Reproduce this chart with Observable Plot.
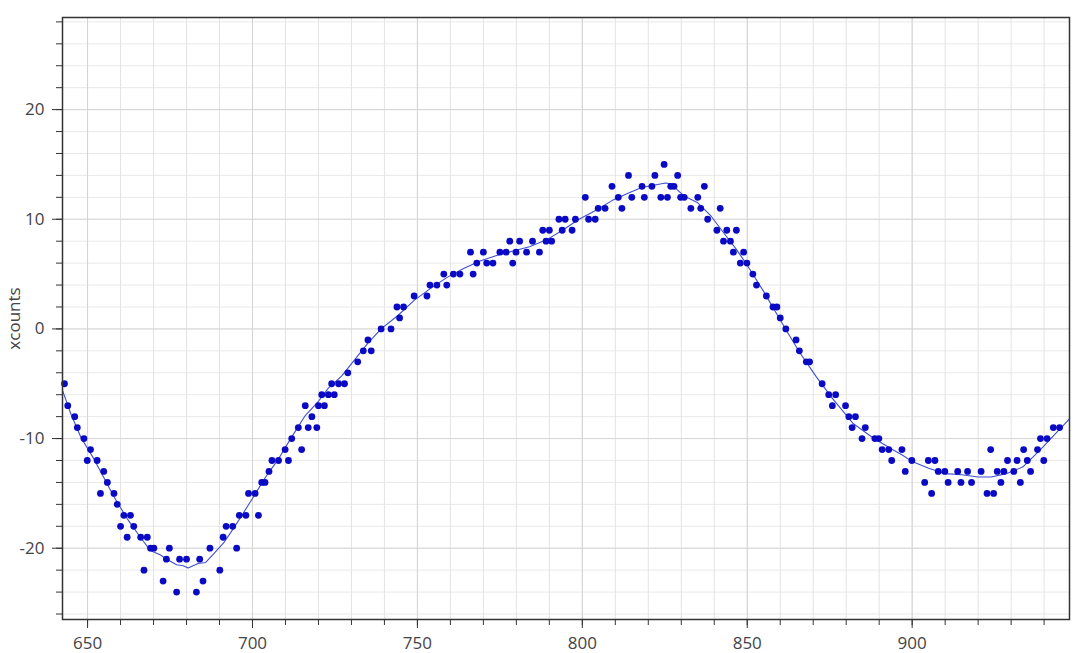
<!DOCTYPE html>
<html>
<head>
<meta charset="utf-8">
<script src="https://cdn.jsdelivr.net/npm/d3@7"></script>
<script src="https://cdn.jsdelivr.net/npm/@observablehq/plot@0.6"></script>
<style>
  html, body { margin: 0; padding: 0; background: #fff; }
  #chart svg { display: block; }
</style>
</head>
<body>
<div id="chart"></div>
<script>
// Measured samples (x, xcounts)
const sampleX = [643.0,644.0,646.1,646.9,648.9,649.9,650.9,652.9,653.9,654.9,656.0,658.0,659.0,660.0,661.0,662.0,663.0,664.0,666.1,667.1,668.1,669.1,670.1,672.9,673.9,674.8,677.0,677.9,680.0,683.0,684.0,685.0,687.1,690.1,691.1,692.0,694.0,695.2,696.0,698.0,698.8,700.8,701.8,702.8,703.8,705.0,705.9,707.9,709.9,710.9,711.9,713.9,714.9,716.0,716.9,718.0,719.5,720.0,721.0,721.8,723.0,724.0,724.8,726.1,727.9,728.9,731.9,733.6,735.0,736.0,739.0,742.0,743.8,744.6,745.8,749.0,752.9,753.8,755.9,758.0,758.9,760.9,762.9,766.1,766.9,768.0,770.0,771.0,772.9,775.0,776.9,778.0,778.9,779.9,781.0,783.1,784.9,787.0,788.0,789.0,790.0,790.7,792.9,793.9,794.8,796.9,797.9,800.9,801.9,803.9,804.8,806.9,809.0,810.9,812.0,814.0,815.0,818.1,818.8,821.1,822.0,823.8,824.8,825.8,826.8,827.8,828.9,829.8,830.9,832.9,835.0,835.9,837.0,838.0,840.8,841.8,842.8,843.8,844.9,845.8,846.7,847.9,848.9,849.9,851.7,852.8,855.8,857.8,859.0,860.0,861.7,864.8,865.8,867.9,868.9,872.7,874.7,875.8,876.8,879.8,880.8,881.8,882.8,884.8,885.8,888.7,889.9,890.9,892.9,893.8,896.9,897.9,899.9,903.8,904.9,905.9,906.9,907.9,909.9,910.9,913.8,914.8,916.8,918.0,920.9,922.7,923.8,924.7,925.8,926.9,927.8,928.9,930.8,931.8,932.8,933.8,934.9,935.9,938.0,938.9,939.9,940.9,942.8,944.7];
const sampleY = [-5,-7,-8,-9,-10,-12,-11,-12,-15,-13,-14,-15,-16,-18,-17,-19,-17,-18,-19,-22,-19,-20,-20,-23,-21,-20,-24,-21,-21,-24,-21,-23,-20,-22,-19,-18,-18,-20,-17,-17,-15,-15,-17,-14,-14,-13,-12,-12,-11,-12,-10,-9,-11,-7,-9,-8,-9,-7,-6,-7,-6,-5,-6,-5,-5,-4,-3,-2,-1,-2,0,0,2,1,2,3,3,4,4,5,4,5,5,7,5,6,7,6,6,7,7,8,6,7,8,7,8,7,9,8,9,8,10,9,10,9,10,12,10,10,11,11,13,12,11,14,12,13,12,13,14,12,15,12,13,13,14,12,12,11,12,11,13,10,9,11,8,9,8,7,9,6,7,6,5,4,3,2,2,1,0,-1,-2,-3,-3,-5,-6,-7,-6,-7,-8,-9,-8,-10,-9,-10,-10,-11,-11,-12,-11,-13,-12,-14,-12,-15,-12,-13,-13,-14,-13,-14,-13,-14,-13,-15,-11,-15,-13,-14,-13,-12,-13,-12,-14,-11,-12,-13,-11,-10,-12,-10,-9,-9];

// Smoothed curve
const fitX = [642.4,645,648,652,655,658,662,666,669,672,674,677,679,680.5,683.5,685.8,688.3,691.3,694,697,700.3,704,708,712,716,720,723,727,731,735,739,744,749,754,759,764,769,774,779,784,789,794,799,804,809,814,818,821.6,825.2,827.7,828.7,831,835,839,843,846.6,850,855,861.6,866,871,876,882,888,894,897,900,905,910,915,920,924,928.5,933.5,938.6,943.6,947.7];
const fitY = [-5.6,-7.8,-9.9,-11.9,-13.6,-15.3,-17.3,-19.0,-20.2,-20.6,-21.0,-21.5,-21.6,-21.8,-21.4,-21.3,-20.5,-19.5,-18.3,-16.9,-15.3,-13.5,-11.8,-9.8,-7.9,-6.6,-5.4,-4.3,-2.8,-1.3,0,1.2,2.6,3.7,4.7,5.5,6.2,6.7,7.1,7.5,8.1,9.0,10.0,10.8,11.7,12.4,12.9,13.1,13.3,13.2,12.7,12.1,11.5,10.3,8.7,7.3,5.8,3.4,0,-2.2,-4.4,-6.4,-8.6,-9.9,-11.0,-11.5,-12.1,-12.7,-13.2,-13.3,-13.5,-13.5,-13.2,-12.6,-11.1,-9.5,-8.2];

// Ticks
const xMajorTicks = [650, 700, 750, 800, 850, 900];
const xMinorTicks = [650, 660, 670, 680, 690, 700, 710, 720, 730, 740, 750, 760, 770, 780, 790, 800, 810, 820, 830, 840, 850, 860, 870, 880, 890, 900, 910, 920, 930, 940];
const yMajorTicks = [-20, -10, 0, 10, 20];
const yMinorTicks = [-26, -24, -22, -20, -18, -16, -14, -12, -10, -8, -6, -4, -2, 0, 2, 4, 6, 8, 10, 12, 14, 16, 18, 20, 22, 24, 26, 28];
const yLabel = "xcounts";

const points = sampleX.map((x, i) => ({x, y: sampleY[i]}));
const fit = fitX.map((x, i) => ({x, y: fitY[i]}));

const chart = Plot.plot({
  width: 1080,
  height: 653,
  marginLeft: 62,
  marginRight: 11,
  marginTop: 17,
  marginBottom: 34,
  style: {fontFamily: "'Open Sans', 'DejaVu Sans', sans-serif", fontSize: "17px", color: "#444", background: "#fff"},
  x: {domain: [642.4, 947.7], label: null},
  y: {domain: [-26.5, 28.4], label: null},
  marks: [
    Plot.gridY(yMinorTicks, {stroke: "#e9e9e9", strokeOpacity: 1}),
    Plot.gridX(xMinorTicks, {stroke: "#e3e3e3", strokeOpacity: 1}),
    Plot.gridY(yMajorTicks, {stroke: "#d6d6d6", strokeOpacity: 1}),
    Plot.gridX(xMajorTicks, {stroke: "#d3d3d3", strokeOpacity: 1}),
    Plot.line(fit, {x: "x", y: "y", stroke: "#3e4ed0", strokeWidth: 1.1}),
    Plot.dot(points, {x: "x", y: "y", r: 3.4, fill: "#0a0ac4", stroke: "none"}),
    Plot.frame({stroke: "#333", strokeWidth: 1.5}),
    Plot.axisY(yMinorTicks, {tickSize: 6, tickFormat: () => "", stroke: "#333", label: null}),
    Plot.axisY(yMajorTicks, {tickSize: 10, tickPadding: 8, tickFormat: d => String(d), stroke: "#333", fill: "#444", label: null}),
    Plot.axisX(xMinorTicks, {tickSize: 6, tickFormat: () => "", stroke: "#333", label: null}),
    Plot.axisX(xMajorTicks, {tickSize: 9, tickPadding: 8, tickFormat: d => String(d), stroke: "#333", fill: "#444", label: null}),
    Plot.text([yLabel], {frameAnchor: "left", textAnchor: "middle", rotate: -90, dx: -48, text: d => d, fill: "#444", fontSize: 17})
  ]
});
document.getElementById("chart").appendChild(chart);
</script>
</body>
</html>
